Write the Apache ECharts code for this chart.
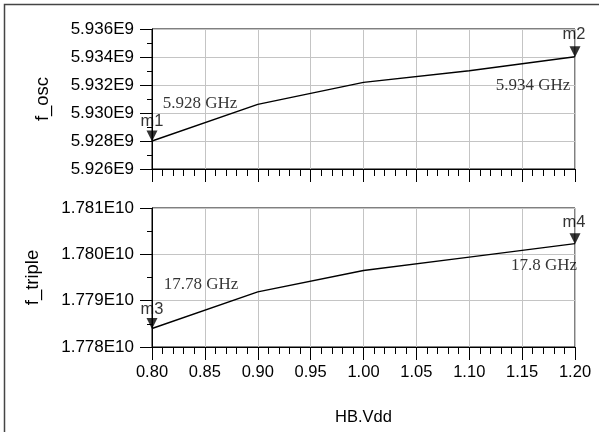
<!DOCTYPE html>
<html><head><meta charset="utf-8">
<script src="https://cdn.jsdelivr.net/npm/echarts@6/dist/echarts.min.js"></script>
<style>html,body{margin:0;padding:0;background:#fff}#c{width:599px;height:432px}</style>
</head><body><div id="c"></div>
<script>
const vdd = [0.8, 0.9, 1.0, 1.1, 1.2];
const fOsc = [5.92800e9, 5.93062e9, 5.93219e9, 5.93302e9, 5.93402e9];
const fTriple = [1.77840e10, 1.77919e10, 1.77965e10, 1.77994e10, 1.78023e10];
const xTicks = ['0.80','0.85','0.90','0.95','1.00','1.05','1.10','1.15','1.20'];
const markers = [
  {name:'m1', plot:0, idx:0, text:'5.928 GHz'},
  {name:'m2', plot:0, idx:4, text:'5.934 GHz'},
  {name:'m3', plot:1, idx:0, text:'17.78 GHz'},
  {name:'m4', plot:1, idx:4, text:'17.8 GHz'}
];
const nameOffsets = {m1:[0,-15], m2:[-1,-17], m3:[0,-14], m4:[-1,-16]};
const textOffsets = {m1:[48,-37], m2:[-42,29], m3:[49,-44], m4:[-31,22]};

const SANS = 'Liberation Sans, Arial, sans-serif';
const SERIF = 'Liberation Serif, Times New Roman, serif';
const chart = echarts.init(document.getElementById('c'), null, {renderer:'canvas'});

function xAx(gi, showLabel){
  return {
    type:'value', gridIndex:gi, min:0.8, max:1.2, interval:0.05,
    axisLine:{show:true, lineStyle:{color:'#000', width:1}},
    axisTick:{show:true, length:13, lineStyle:{color:'#000'}},
    minorTick:{show:true, splitNumber:5, length:7, lineStyle:{color:'#000'}},
    splitLine:{show:true, lineStyle:{color:'#c4c4c4', width:1}},
    axisLabel:{show:showLabel, color:'#000', fontFamily:SANS, fontSize:16.5, margin:17,
      formatter:(v)=>{ const s=v.toFixed(2); return xTicks.includes(s)?s:''; }},
    name: showLabel ? 'HB.Vdd' : '', nameLocation:'middle', nameGap:62,
    nameTextStyle:{color:'#000', fontFamily:SANS, fontSize:16.5}
  };
}
function yAx(gi, min, max, itv, div, suffix, name, gap){
  return {
    type:'value', gridIndex:gi, min:min, max:max, interval:itv,
    axisLine:{show:true, lineStyle:{color:'#000', width:1}},
    axisTick:{show:true, length:12, lineStyle:{color:'#000'}},
    minorTick:{show:true, splitNumber:2, length:5, lineStyle:{color:'#000'}},
    splitLine:{show:true, lineStyle:{color:'#c4c4c4', width:1}},
    axisLabel:{color:'#000', fontFamily:SANS, fontSize:17, margin:18,
      formatter:(v)=>(v/div).toFixed(3)+suffix},
    name:name, nameLocation:'middle', nameGap:gap, nameRotate:90,
    nameTextStyle:{color:'#000', fontFamily:SANS, fontSize:18.5}
  };
}

const series = [
  {type:'line', xAxisIndex:0, yAxisIndex:0, data:vdd.map((x,i)=>[x,fOsc[i]]),
   symbol:'none', lineStyle:{color:'#000', width:1.4}, silent:true, animation:false},
  {type:'line', xAxisIndex:1, yAxisIndex:1, data:vdd.map((x,i)=>[x,fTriple[i]]),
   symbol:'none', lineStyle:{color:'#000', width:1.4}, silent:true, animation:false}
];
markers.forEach(m=>{
  const ys = m.plot===0 ? fOsc : fTriple;
  const pt = [vdd[m.idx], ys[m.idx]];
  series.push({type:'scatter', xAxisIndex:m.plot, yAxisIndex:m.plot, clip:false, animation:false,
    data:[pt], symbol:'triangle', symbolRotate:180, symbolSize:[11,11], symbolOffset:[0,-5],
    itemStyle:{color:'#000'},
    label:{show:true, position:'inside', offset:nameOffsets[m.name], formatter:m.name,
      color:'#000', textBorderWidth:0, textBorderColor:'transparent', fontFamily:SANS, fontSize:16.5}});
  series.push({type:'scatter', xAxisIndex:m.plot, yAxisIndex:m.plot, clip:false, animation:false,
    data:[pt], symbol:'circle', symbolSize:1, itemStyle:{color:'rgba(0,0,0,0)'},
    label:{show:true, position:'inside', offset:textOffsets[m.name], formatter:m.text,
      color:'#000', textBorderWidth:0, textBorderColor:'transparent', fontFamily:SERIF, fontSize:17}});
});

chart.setOption({
  animation:false,
  backgroundColor:'#fff',
  graphic:[{type:'rect', shape:{x:4.5, y:4.5, width:620, height:460},
    style:{fill:'none', stroke:'#444', lineWidth:1.5}, silent:true, z:-10}],
  grid:[
    {left:152, top:29, width:423, height:140, show:true, borderColor:'#000', borderWidth:1, backgroundColor:'#fff'},
    {left:152, top:208, width:423, height:139, show:true, borderColor:'#000', borderWidth:1, backgroundColor:'#fff'}
  ],
  xAxis:[xAx(0,false), xAx(1,true)],
  yAxis:[
    yAx(0, 5.926e9, 5.936e9, 0.002e9, 1e9, 'E9', 'f_osc', 100),
    yAx(1, 1.778e10, 1.781e10, 0.001e10, 1e10, 'E10', 'f_triple', 110)
  ],
  series:series
});
</script></body></html>
